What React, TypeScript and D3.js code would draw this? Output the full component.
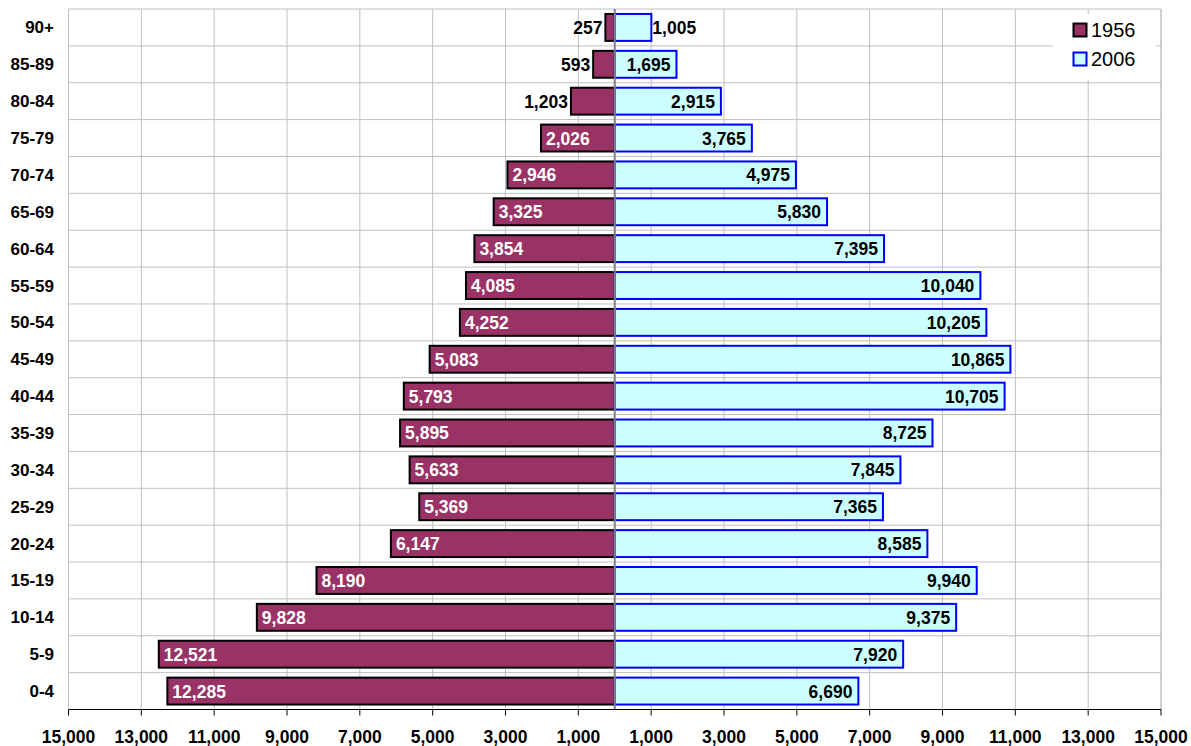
import React from "react";
import * as d3 from "d3";

const categories = ["90+", "85-89", "80-84", "75-79", "70-74", "65-69", "60-64", "55-59", "50-54", "45-49", "40-44", "35-39", "30-34", "25-29", "20-24", "15-19", "10-14", "5-9", "0-4"];
const values1956 = [257, 593, 1203, 2026, 2946, 3325, 3854, 4085, 4252, 5083, 5793, 5895, 5633, 5369, 6147, 8190, 9828, 12521, 12285];
const values2006 = [1005, 1695, 2915, 3765, 4975, 5830, 7395, 10040, 10205, 10865, 10705, 8725, 7845, 7365, 8585, 9940, 9375, 7920, 6690];
const tickValues = [-15000, -13000, -11000, -9000, -7000, -5000, -3000, -1000, 1000, 3000, 5000, 7000, 9000, 11000, 13000, 15000];
const seriesNames = ["1956", "2006"];

const W = 1191;
const H = 746;
const left = 68.5;
const right = 1161;
const top = 9;
const bottom = 709.5;
const FONT = "'Liberation Sans', Arial, sans-serif";

export default function App() {
  const x = d3.scaleLinear().domain([-15000, 15000]).range([left, right]);
  const y = d3.scaleBand<string>().domain(categories).range([top, bottom]).paddingInner(0.27).paddingOuter(0.135);
  const step = y.step();
  const fmt = d3.format(",");
  const labelSize = 17.5;
  const charW = (s: string) => {
    let w = 0;
    for (const c of s) w += c === "," ? 0.278 : 0.556;
    return w * labelSize;
  };

  return (
    <svg width={W} height={H} style={{ position: "absolute", left: 0, top: 0, background: "#fff" }} fontFamily={FONT}>
      {tickValues.map((t) => (
        <line key={"vg" + t} x1={x(t)} x2={x(t)} y1={top} y2={bottom} stroke="#c0c0c0" strokeWidth={1} />
      ))}
      {d3.range(0, categories.length).map((k) => (
        <line key={"hg" + k} x1={left} x2={right} y1={top + k * step} y2={top + k * step} stroke="#c0c0c0" strokeWidth={1} />
      ))}
      <line x1={right} x2={right} y1={top} y2={bottom} stroke="#c0c0c0" />

      {categories.map((c, i) => {
        const v = values1956[i];
        const x0 = x(-v);
        const x1 = x(0);
        return (
          <rect key={"a" + c} x={x0} y={y(c)} width={x1 - x0} height={y.bandwidth()} fill="#993366" stroke="#000" strokeWidth={2} />
        );
      })}
      {categories.map((c, i) => {
        const v = values2006[i];
        const x0 = x(0);
        const x1 = x(v);
        return (
          <rect key={"b" + c} x={x0} y={y(c)} width={x1 - x0} height={y.bandwidth()} fill="#ccffff" stroke="#0000ff" strokeWidth={2} />
        );
      })}

      <line x1={x(0)} x2={x(0)} y1={top} y2={bottom} stroke="#808080" strokeWidth={2} />
      <line x1={left} x2={right} y1={bottom} y2={bottom} stroke="#000" strokeWidth={1} />
      {tickValues.map((t) => (
        <g key={"t" + t}>
          <line x1={x(t)} x2={x(t)} y1={bottom} y2={bottom + 6} stroke="#000" strokeWidth={1} />
          <text x={x(t)} y={743} textAnchor="middle" fontSize={17.5} fontWeight="bold" fill="#000">
            {fmt(Math.abs(t))}
          </text>
        </g>
      ))}

      {categories.map((c) => (
        <text key={"c" + c} x={54} y={(y(c) as number) + y.bandwidth() / 2 + 6} textAnchor="end" fontSize={17} fontWeight="bold" fill="#000">
          {c}
        </text>
      ))}

      {categories.map((c, i) => {
        const v = values1956[i];
        const s = fmt(v);
        const bw = x(0) - x(-v);
        const fits = bw > charW(s) + 10;
        const cy = (y(c) as number) + y.bandwidth() / 2 + 6.5;
        return fits ? (
          <text key={"la" + c} x={x(-v) + 5} y={cy} fontSize={labelSize} fontWeight="bold" fill="#fff">
            {s}
          </text>
        ) : (
          <text key={"la" + c} x={x(-v) - 3} y={cy} textAnchor="end" fontSize={labelSize} fontWeight="bold" fill="#000">
            {s}
          </text>
        );
      })}
      {categories.map((c, i) => {
        const v = values2006[i];
        const s = fmt(v);
        const bw = x(v) - x(0);
        const fits = bw > charW(s) + 10;
        const cy = (y(c) as number) + y.bandwidth() / 2 + 6.5;
        return fits ? (
          <text key={"lb" + c} x={x(v) - 6} y={cy} textAnchor="end" fontSize={labelSize} fontWeight="bold" fill="#000">
            {s}
          </text>
        ) : (
          <text key={"lb" + c} x={x(v) + 1} y={cy} fontSize={labelSize} fontWeight="bold" fill="#000">
            {s}
          </text>
        );
      })}

      <rect x={1053} y={14} width={103} height={66} fill="#fff" />
      <rect x={1073.5} y={23.5} width={13} height={13} fill="#993366" stroke="#000" strokeWidth={2} />
      <text x={1091} y={37} fontSize={20} fill="#000">{seriesNames[0]}</text>
      <rect x={1073.5} y={52.5} width={13} height={13} fill="#ccffff" stroke="#0000ff" strokeWidth={2} />
      <text x={1091} y={66} fontSize={20} fill="#000">{seriesNames[1]}</text>
    </svg>
  );
}
